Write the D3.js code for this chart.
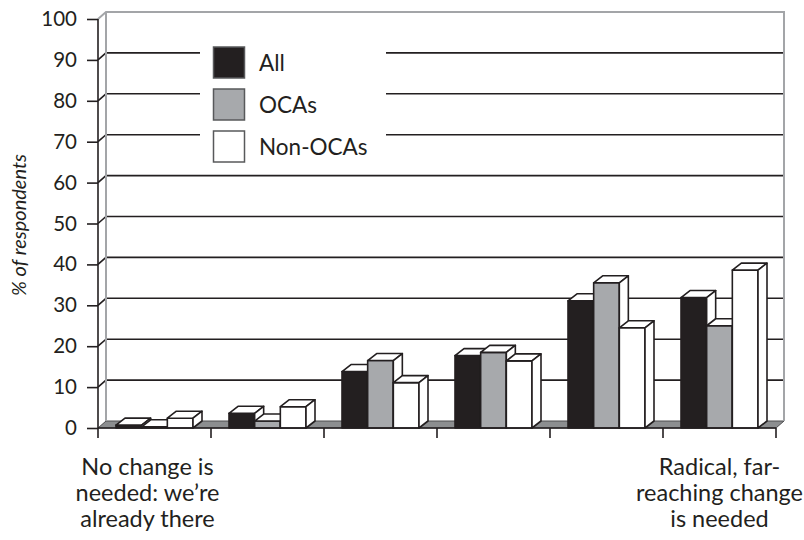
<!DOCTYPE html>
<html>
<head>
<meta charset="utf-8">
<script src="https://cdn.jsdelivr.net/npm/d3@7"></script>
<style>
  html, body { margin: 0; padding: 0; background: #fff; }
  svg { display: block; font-family: Lato, "Open Sans", sans-serif; }
</style>
</head>
<body>
<svg id="chart" width="804" height="540"></svg>
<script>
// Six-point scale of how much change is needed
const categories = ["1", "2", "3", "4", "5", "6"];
const categoryLabels = [
  ["No change is", "needed: we\u2019re", "already there"],
  [], [], [], [],
  ["Radical, far-", "reaching change", "is needed"]
];
const seriesNames = ["All", "OCAs", "Non-OCAs"];
const allValues    = [0.7, 3.6, 13.8, 17.7, 31.1, 31.9];
const ocaValues    = [0.3, 1.7, 16.5, 18.5, 35.5, 25.0];
const nonOcaValues = [2.4, 5.2, 11.1, 16.4, 24.5, 38.6];
const yTicks = [0, 10, 20, 30, 40, 50, 60, 70, 80, 90, 100];
const yTitle = "% of respondents";

const seriesValues = [allValues, ocaValues, nonOcaValues];
const fills = ["#231f20", "#a7a9ac", "#ffffff"];
const ink = "#231f20";

const svg = d3.select("#chart");

// Front plane scales
const x = d3.scaleBand().domain(categories).range([98, 776]).paddingInner(0).paddingOuter(0);
const y = d3.scaleLinear().domain([0, 100]).range([428, 19]);
const inner = d3.scaleBand().domain(seriesNames).range([18, 95]).padding(0);

// 3-D depth offsets (walls and bars)
const wdx = 8, wdy = -7;
const bdx = 9, bdy = -7;

const x0 = x.range()[0], x1 = x.range()[1];
const yBase = y(0), yTop = y(100);

// Floor
svg.append("polygon")
  .attr("points", [[x0, yBase], [x1, yBase], [x1 + wdx, yBase + wdy], [x0 + wdx, yBase + wdy]].join(" "))
  .attr("fill", "#8c8e90").attr("stroke", "#4d4d4f").attr("stroke-width", 1);

// Gridlines on back wall plus the diagonal on the side wall
const grid = svg.append("g");
yTicks.filter(t => t > 0 && t < 100).forEach(t => {
  const yy = y(t);
  grid.append("polyline")
    .attr("points", [[x0, yy], [x0 + wdx, yy + wdy], [x1 + wdx, yy + wdy]].join(" "))
    .attr("fill", "none").attr("stroke", ink).attr("stroke-width", 1.6);
});

// Wall edges
const wall = svg.append("g").attr("fill", "none").attr("stroke", "#a3a5a8").attr("stroke-width", 2);
wall.append("polyline")
  .attr("points", [[x0, yTop], [x0 + wdx, yTop + wdy], [x1 + wdx, yTop + wdy], [x1 + wdx, yBase + wdy]].join(" "));
wall.append("line")
  .attr("x1", x0 + wdx).attr("y1", yTop + wdy).attr("x2", x0 + wdx).attr("y2", yBase + wdy);

// Legend
const legend = svg.append("g");
legend.append("rect").attr("x", 200).attr("y", 32).attr("width", 186).attr("height", 136).attr("fill", "#fff");
seriesNames.forEach((name, i) => {
  const cy = 63 + i * 42;
  legend.append("rect")
    .attr("x", 213.5).attr("y", cy - 16).attr("width", 31).attr("height", 31)
    .attr("fill", fills[i]).attr("stroke", "#58595b").attr("stroke-width", 1.5);
  legend.append("text")
    .attr("x", 259).attr("y", cy + 8)
    .attr("font-size", 22.5).attr("fill", ink)
    .text(name);
});

// Bars
const bars = svg.append("g").attr("stroke", ink).attr("stroke-width", 1.6).attr("stroke-linejoin", "round");
categories.forEach((c, ci) => {
  seriesNames.forEach((s, si) => {
    const v = seriesValues[si][ci];
    const bx = x(c) + inner(s);
    const w = inner.bandwidth();
    const yt = y(v);
    const g = bars.append("g");
    g.append("rect").attr("x", bx).attr("y", yt).attr("width", w).attr("height", yBase - yt).attr("fill", fills[si]);
    g.append("polygon")
      .attr("points", [[bx, yt], [bx + w, yt], [bx + w + bdx, yt + bdy], [bx + bdx, yt + bdy]].join(" "))
      .attr("fill", "#fff");
    g.append("polygon")
      .attr("points", [[bx + w, yt], [bx + w + bdx, yt + bdy], [bx + w + bdx, yBase + bdy], [bx + w, yBase]].join(" "))
      .attr("fill", "#fff");
  });
});

// Front axes
const axes = svg.append("g").attr("stroke", ink).attr("stroke-width", 1.6);
axes.append("line").attr("x1", x0).attr("y1", yTop).attr("x2", x0).attr("y2", yBase);
axes.append("line").attr("x1", x0).attr("y1", yBase).attr("x2", x1).attr("y2", yBase);

const yAxis = d3.axisLeft(y).tickValues(yTicks).tickSize(11).tickPadding(10).tickFormat(d3.format("d"));
const yg = svg.append("g").attr("transform", `translate(${x0},0)`).call(yAxis);
yg.select(".domain").remove();
yg.selectAll(".tick line").attr("stroke", ink).attr("stroke-width", 1.6);
yg.selectAll(".tick text").attr("font-size", 20.5).attr("fill", ink).attr("font-family", "Lato, sans-serif");

// Category boundary ticks
const bounds = categories.map(c => x(c)).concat([x1]);
svg.append("g").selectAll("line").data(bounds).join("line")
  .attr("x1", d => d).attr("x2", d => d).attr("y1", yBase).attr("y2", yBase + 10)
  .attr("stroke", ink).attr("stroke-width", 1.6);

// Category labels
categories.forEach((c, ci) => {
  const lines = categoryLabels[ci];
  if (!lines.length) return;
  const t = svg.append("text")
    .attr("text-anchor", "middle").attr("font-size", 23.5).attr("fill", ink);
  lines.forEach((ln, li) => {
    t.append("tspan").attr("x", x(c) + x.bandwidth() / 2 - (ci === 0 ? 7 : 0)).attr("y", 475 + li * 26).text(ln);
  });
});

// Y title
svg.append("text")
  .attr("transform", "translate(26,225) rotate(-90)")
  .attr("text-anchor", "middle").attr("font-size", 20).attr("font-style", "italic").attr("fill", ink)
  .text(yTitle);
</script>
</body>
</html>
